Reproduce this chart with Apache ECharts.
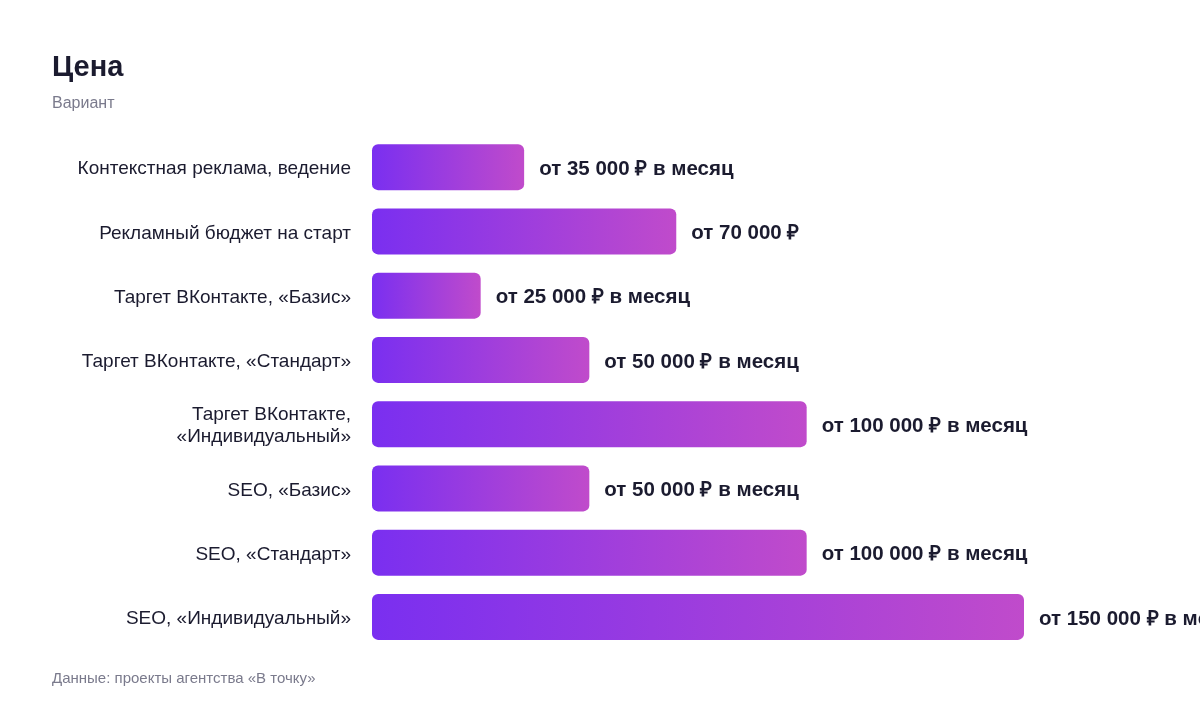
<!DOCTYPE html>
<html><head><meta charset="utf-8">
<script src="https://cdn.jsdelivr.net/npm/echarts@6/dist/echarts.min.js"></script>
<style>html,body{margin:0;padding:0;background:#fff}#c{width:1200px;height:712px}</style>
</head><body><div id="c"></div>
<script>
const categories = [
  "Контекстная реклама, ведение",
  "Рекламный бюджет на старт",
  "Таргет ВКонтакте, «Базис»",
  "Таргет ВКонтакте, «Стандарт»",
  "Таргет ВКонтакте,\n«Индивидуальный»",
  "SEO, «Базис»",
  "SEO, «Стандарт»",
  "SEO, «Индивидуальный»"
];
const values = [35000, 70000, 25000, 50000, 100000, 50000, 100000, 150000];
const valueLabels = [
  "от 35 000 ₽ в месяц",
  "от 70 000 ₽",
  "от 25 000 ₽ в месяц",
  "от 50 000 ₽ в месяц",
  "от 100 000 ₽ в месяц",
  "от 50 000 ₽ в месяц",
  "от 100 000 ₽ в месяц",
  "от 150 000 ₽ в месяц"
];
const chart = echarts.init(document.getElementById('c'));
const font = "Liberation Sans";
chart.setOption({
  animation: false,
  textStyle: {fontFamily: font},
  title: [
    {text: 'Цена', left: 52, top: 53, padding: 0, textStyle: {fontSize: 29, fontWeight: 'bold', color: '#1b1b2f', fontFamily: font}},
    {text: 'Вариант', left: 52, top: 96, padding: 0, textStyle: {fontSize: 16, fontWeight: 'normal', color: '#7a7a8c', fontFamily: font}},
    {text: 'Данные: проекты агентства «В точку»', left: 52, top: 671, padding: 0, textStyle: {fontSize: 15, fontWeight: 'normal', color: '#7a7a8c', fontFamily: font}}
  ],
  grid: {left: 372, right: 176, top: 135, bottom: 63, containLabel: false},
  xAxis: {type: 'value', min: 0, max: 150000, show: false},
  yAxis: {
    type: 'category', data: categories, inverse: true,
    axisLine: {show: false}, axisTick: {show: false},
    axisLabel: {
      margin: 21, align: 'right',
      formatter: v => v.split('\n').map(s => '{a|' + s + '}').join('\n'),
      rich: {a: {fontSize: 19, color: '#1b1b2f', lineHeight: 22, padding: [4, 0, 0, 0], fontFamily: font, align: 'right'}}
    }
  },
  series: [{
    type: 'bar',
    data: values,
    barWidth: 46,
    itemStyle: {
      borderRadius: 6,
      color: new echarts.graphic.LinearGradient(0, 0, 1, 0, [
        {offset: 0, color: '#7a2ff0'},
        {offset: 1, color: '#c04bcb'}
      ])
    },
    label: {
      show: true, position: 'right', distance: 15, offset: [0, 2],
      formatter: p => valueLabels[p.dataIndex],
      fontSize: 20.5, fontWeight: 'bold', color: '#1b1b2f', fontFamily: font
    }
  }]
});
</script></body></html>
